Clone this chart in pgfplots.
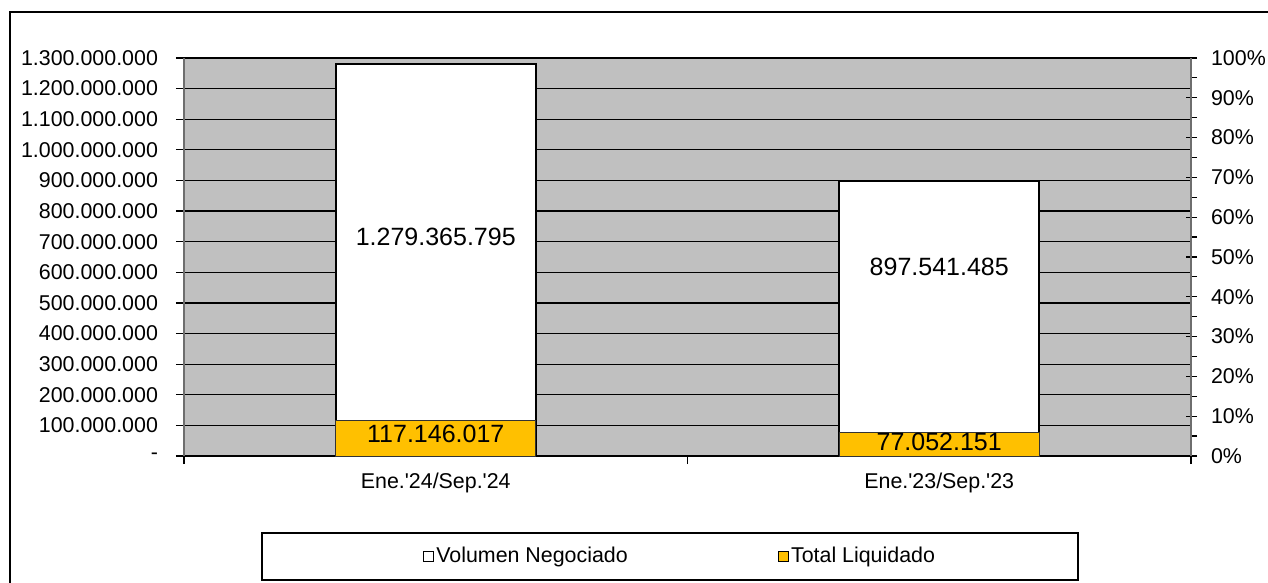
\documentclass[border=0pt]{standalone}
\usepackage{fontspec}
\setmainfont{Liberation Sans}[Ligatures=TeXOff]
\usepackage{pgfplots}
\pgfplotsset{compat=1.18}
\definecolor{bggray}{RGB}{192,192,192}
\definecolor{barorange}{RGB}{255,192,0}
\definecolor{axgray}{RGB}{110,110,110}
\newcommand{\tickfont}{\fontsize{10.7}{12}\selectfont}
\newcommand{\labfont}{\fontsize{12.5}{14}\selectfont}
\begin{document}
\begin{tikzpicture}
\begin{axis}[
  at={(0,0)}, anchor=south west,
  scale only axis, width=503.5pt, height=199pt,
  xmin=-0.5, xmax=1.5, ymin=0, ymax=1300000000,
  scaled y ticks=false,
  axis background/.style={fill=bggray},
  axis lines*=left, axis line style={-},
  y axis line style={draw=axgray, line width=0.7pt},
  x axis line style={draw=black, line width=0.6pt},
  ytick={0,100000000,200000000,300000000,400000000,500000000,600000000,700000000,800000000,900000000,1000000000,1100000000,1200000000,1300000000},
  yticklabels={-,100.000.000,200.000.000,300.000.000,400.000.000,500.000.000,600.000.000,700.000.000,800.000.000,900.000.000,1.000.000.000,1.100.000.000,1.200.000.000,1.300.000.000},
  ymajorgrids, major grid style={black, line width=0.6pt},
  tick align=outside, major tick length=4pt,
  tick style={black, line width=0.6pt},
  xtick={-0.5,0.5,1.5}, xticklabels={},
  extra x ticks={0,1},
  extra x tick labels={Ene.'24/Sep.'24,Ene.'23/Sep.'23},
  extra x tick style={tick style={draw=none}},
  tick label style={font=\tickfont},
  yticklabel style={xshift=-5.5pt},
  xticklabel style={yshift=-1pt},
  legend style={at={(0.4926,-0.2525)}, anchor=center, draw=none, fill=none,
    legend columns=2, font=\tickfont, nodes={inner sep=1pt},
    /tikz/every even column/.append style={column sep=74pt}},
  clip=false,
]
\addplot[ybar, bar width=100pt, bar shift=0pt, fill=white, draw=black, line width=1pt,
  legend image code/.code={\draw[fill=white,draw=black,line width=0.6pt] (0pt,-2.5pt) rectangle (5pt,2.5pt);}]
  coordinates {(0,1279365795) (1,897541485)};
\addlegendentry{Volumen Negociado}
\addplot[ybar, bar width=100pt, bar shift=0pt, fill=barorange, draw=black!80, line width=0.5pt,
  legend image code/.code={\draw[fill=barorange,draw=black,line width=0.6pt] (0pt,-2.5pt) rectangle (5pt,2.5pt);}]
  coordinates {(0,117146017) (1,77052151)};
\addlegendentry{Total Liquidado}
\node[font=\labfont] at (axis cs:0,715300000) {1.279.365.795};
\node[font=\labfont] at (axis cs:1,617000000) {897.541.485};
\node[font=\labfont] at (axis cs:0,71900000) {117.146.017};
\node[font=\labfont] at (axis cs:1,45700000) {77.052.151};
\end{axis}
\begin{axis}[
  at={(0,0)}, anchor=south west,
  scale only axis, width=503.5pt, height=199pt,
  xmin=-0.5, xmax=1.5, ymin=0, ymax=100,
  axis y line*=right, axis x line=none,
  y axis line style={-, draw=axgray, line width=0.7pt},
  ytick={0,10,20,30,40,50,60,70,80,90,100},
  yticklabels={0\%,10\%,20\%,30\%,40\%,50\%,60\%,70\%,80\%,90\%,100\%},
  minor y tick num=1,
  tick align=outside, major tick length=5.5pt, minor tick length=3pt,
  tick style={black, line width=0.6pt},
  major tick style={xshift=-2.5pt},
  tick label style={font=\tickfont},
  yticklabel style={xshift=1pt},
]
\end{axis}
\draw[black, line width=0.6pt] (-87pt,-70pt) -- (-87pt,222pt) -- (550pt,222pt);
\draw[black, line width=0.6pt] (39pt,-38.5pt) rectangle (447pt,-62pt);
\pgfresetboundingbox
\useasboundingbox (-92pt,-63.5pt) rectangle (542pt,228pt);
\end{tikzpicture}
\end{document}
